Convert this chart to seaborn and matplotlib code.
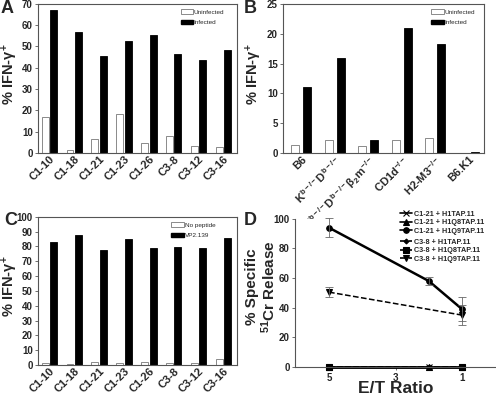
import numpy as np
import pandas as pd
import matplotlib
matplotlib.use("Agg")
import matplotlib.pyplot as plt
from matplotlib.patches import Patch
from matplotlib.lines import Line2D
import seaborn as sns

sns.set_theme(style="white")
plt.rcParams['font.family'] = ['Liberation Sans', 'DejaVu Sans']
plt.rcParams['font.weight'] = 'bold'
plt.rcParams['mathtext.fontset'] = 'custom'
plt.rcParams['mathtext.rm'] = 'Liberation Sans:bold'
plt.rcParams['mathtext.it'] = 'Liberation Sans:bold'
plt.rcParams['mathtext.bf'] = 'Liberation Sans:bold'

# ---------------- data ----------------
clones = ["C1-10", "C1-18", "C1-21", "C1-23", "C1-26", "C3-8", "C3-12", "C3-16"]
a_uninfected = [17.0, 1.5, 6.7, 18.5, 4.7, 8.1, 3.4, 2.9]
a_infected = [67.0, 57.0, 45.5, 52.7, 55.4, 46.3, 43.8, 48.3]

strains = ["B6", r"K$^{b-/-}$D$^{b-/-}$", r"K$^{b-/-}$D$^{b-/-}$β$_{2}$m$^{-/-}$",
           r"CD1d$^{-/-}$", r"H2-M3$^{-/-}$", "B6.K1"]
b_uninfected = [1.4, 2.2, 1.2, 2.2, 2.5, 0.0]
b_infected = [11.0, 16.0, 2.2, 20.9, 18.3, 0.15]

c_nopeptide = [1.2, 0.8, 2.0, 1.2, 2.0, 1.2, 1.2, 4.2]
c_vp2 = [83.2, 87.6, 77.3, 84.8, 79.1, 79.5, 78.8, 85.6]

et_ratio = [5, 2, 1]
d_labels = ["C1-21 + H1TAP.11", "C1-21 + H1Q8TAP.11", "C1-21 + H1Q9TAP.11",
            "C3-8 + H1TAP.11", "C3-8 + H1Q8TAP.11", "C3-8 + H1Q9TAP.11"]
d_values = [
    [0.0, 0.0, 0.0],
    [0.0, 0.0, 0.0],
    [94.0, 58.0, 39.0],
    [0.0, 0.0, 0.0],
    [0.0, np.nan, 0.0],
    [50.5, np.nan, 35.0],
]
d_errors = [
    [0, 0, 0],
    [0, 0, 0],
    [6.5, 2.5, 8.0],
    [0, 0, 0],
    [0, 0, 0],
    [3.3, 0, 6.5],
]
d_markers = ["x", "^", "o", "D", "s", "v"]
d_styles = ["-", "-", "-", "--", "--", "--"]

# ---------------- figure ----------------
fig = plt.figure(figsize=(4.96, 3.95), dpi=100)
axA = fig.add_axes([0.077, 0.613, 0.401, 0.377])
axB = fig.add_axes([0.571, 0.613, 0.405, 0.377])
axC = fig.add_axes([0.077, 0.076, 0.401, 0.375])
axD = fig.add_axes([0.595, 0.071, 0.405, 0.375])

spine_col = "#555555"
ylabel_ifn = r"% IFN-$\gamma^{+}$"


def bar_panel(ax, cats, v1, v2, names, ylim, yticks, width, gap, letter,
              letter_pos, legend_pos, label_x):
    df = pd.DataFrame({
        "cat": cats * 2,
        "val": list(v1) + list(v2),
        "cond": [names[0]] * len(cats) + [names[1]] * len(cats),
    })
    sns.barplot(data=df, x="cat", y="val", hue="cond",
                palette={names[0]: "white", names[1]: "black"},
                saturation=1, width=width, gap=gap, errorbar=None,
                linewidth=0.6, ax=ax, legend=False)
    for p in ax.patches:
        fc = p.get_facecolor()
        if fc[0] > 0.5:
            p.set_edgecolor("#777777")
        else:
            p.set_edgecolor("black")
    ax.set_ylim(*ylim)
    ax.set_yticks(yticks)
    ax.set_xlabel("")
    ax.set_ylabel(ylabel_ifn, fontsize=10.5, fontweight="bold")
    ax.yaxis.set_label_coords(label_x, 0.53)
    ax.tick_params(axis="y", labelsize=7, length=2.5, width=0.6, pad=1.5,
                   left=True, color=spine_col)
    ax.tick_params(axis="x", labelsize=8, length=0, pad=1)
    for lab in ax.get_xticklabels():
        lab.set_rotation(45)
        lab.set_ha("right")
        lab.set_rotation_mode("anchor")
        lab.set_fontweight("bold")
    for lab in ax.get_yticklabels():
        lab.set_fontweight("bold")
    for s in ax.spines.values():
        s.set_color(spine_col)
        s.set_linewidth(0.8)
        s.set_visible(True)
    handles = [Patch(facecolor="white", edgecolor="#777777", linewidth=0.6, label=names[0]),
               Patch(facecolor="black", edgecolor="black", label=names[1])]
    leg = ax.legend(handles=handles, loc="upper right", bbox_to_anchor=legend_pos,
                    frameon=False, fontsize=4.6, handlelength=1.9, handleheight=0.7,
                    handletextpad=0.15, labelspacing=0.8, borderaxespad=0,
                    borderpad=0)
    for t in leg.get_texts():
        t.set_fontweight("normal")
    ax.text(letter_pos[0], letter_pos[1], letter, transform=ax.transAxes,
            fontsize=13, fontweight="bold", ha="center", va="center")


bar_panel(axA, clones, a_uninfected, a_infected, ["Uninfected", "Infected"],
          (0, 70), range(0, 71, 10), 0.68, 0.18, "A", (-0.158, 0.97),
          (0.935, 0.965), -0.09)
bar_panel(axB, strains, b_uninfected, b_infected, ["Uninfected", "Infected"],
          (0, 25), range(0, 26, 5), 0.72, 0.33, "B", (-0.164, 0.97),
          (0.955, 0.965), -0.098)
bar_panel(axC, clones, c_nopeptide, c_vp2, ["No peptide", "VP2.139"],
          (0, 100), range(0, 101, 10), 0.68, 0.18, "C", (-0.14, 0.976),
          (0.89, 0.965), -0.09)
axA.set_xlim(-0.45, 7.55)
axC.set_xlim(-0.45, 7.55)
axB.set_xlim(-0.54, 5.46)

# ---------------- panel D ----------------
handles1, handles2 = [], []
for i, (lab, vals, errs, mk, ls) in enumerate(zip(d_labels, d_values, d_errors, d_markers, d_styles)):
    x = np.array(et_ratio, dtype=float)
    y = np.array(vals, dtype=float)
    e = np.array(errs, dtype=float)
    ok = ~np.isnan(y)
    lw = 1.8 if ls == "-" else 1.1
    ms = 4 if mk != "D" else 2.5
    sns.lineplot(x=x[ok], y=y[ok], ax=axD, color="black", marker=mk, linestyle=ls,
                 linewidth=lw, markersize=ms, markeredgecolor="black",
                 markeredgewidth=0.8, sort=False, errorbar=None, legend=False,
                 clip_on=False)
    if np.any(e[ok] > 0):
        eb = axD.errorbar(x[ok], y[ok], yerr=e[ok], fmt="none", ecolor="#666666",
                          elinewidth=0.6, capsize=3, capthick=0.6)
        for art in eb.lines[1] + eb.lines[2]:
            art.set_clip_on(False)
    h = Line2D([], [], color="black", marker=mk, linestyle=ls, linewidth=1.2,
               markersize=ms, markeredgewidth=0.8, label=lab)
    (handles1 if i < 3 else handles2).append(h)

axD.set_xlim(6.02, -0.02)
axD.set_ylim(0, 100)
axD.set_xticks([5, 3, 1])
axD.set_yticks([0, 20, 40, 60, 80, 100])
axD.set_xlabel("E/T Ratio", fontsize=12.5, fontweight="bold", labelpad=-1)
axD.set_ylabel("% Specific\n" + r"$^{51}$Cr Release", fontsize=11,
               fontweight="bold", linespacing=1.05)
axD.yaxis.set_label_coords(-0.085, 0.54)
sns.despine(ax=axD)
for s in ["left", "bottom"]:
    axD.spines[s].set_color(spine_col)
    axD.spines[s].set_linewidth(0.8)
axD.tick_params(axis="both", labelsize=7, length=2.5, width=0.6, pad=1.5,
                left=True, bottom=True, color=spine_col)
for lab in axD.get_xticklabels() + axD.get_yticklabels():
    lab.set_fontweight("bold")

leg_kw = dict(frameon=False, fontsize=5.2, handlelength=1.7, handletextpad=0.2,
              labelspacing=0.2, borderaxespad=0, borderpad=0, loc="upper left")
leg1 = axD.legend(handles=handles1, bbox_to_anchor=(0.522, 1.054), **leg_kw)
axD.add_artist(leg1)
leg2 = axD.legend(handles=handles2, bbox_to_anchor=(0.522, 0.865), **leg_kw)
axD.text(-0.224, 0.99, "D", transform=axD.transAxes, fontsize=13,
         fontweight="bold", ha="center", va="center")

fig.savefig("out.png", dpi=100)
